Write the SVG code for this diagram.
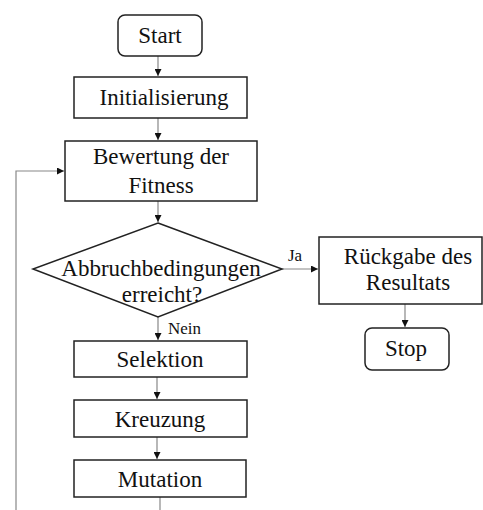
<svg xmlns="http://www.w3.org/2000/svg" width="483" height="510" viewBox="0 0 483 510">
<style>
.box{fill:#fff;stroke:#222;stroke-width:1.5}
.t{font-family:"Liberation Serif","Times New Roman",serif;font-size:23px;fill:#111;text-anchor:middle}
.lbl{font-family:"Liberation Serif","Times New Roman",serif;font-size:17px;fill:#111}
.c{fill:none;stroke:#888;stroke-width:1.2}
</style>
<defs>
<marker id="ah" viewBox="0 0 8 8" refX="8" refY="4" markerWidth="7" markerHeight="7" markerUnits="userSpaceOnUse" orient="auto">
<path d="M0,0 L8,4 L0,8 z" fill="#111"/>
</marker>
</defs>
<rect width="483" height="510" fill="#fff"/>
<g id="connectors">
<path class="c" d="M158,56 V76" marker-end="url(#ah)"/>
<path class="c" d="M158,118 V140" marker-end="url(#ah)"/>
<path class="c" d="M158,201 V222" marker-end="url(#ah)"/>
<path class="c" d="M282,269 H318" marker-end="url(#ah)"/>
<path class="c" d="M158,317 V340" marker-end="url(#ah)"/>
<path class="c" d="M405,304 V327" marker-end="url(#ah)"/>
<path class="c" d="M157,377 V399" marker-end="url(#ah)"/>
<path class="c" d="M157,437 V459" marker-end="url(#ah)"/>
<path class="c" d="M160,497 V510"/>
<path class="c" d="M16,510 V171 H64" marker-end="url(#ah)"/>
<text class="lbl" x="288" y="261">Ja</text>
<text class="lbl" x="168" y="334">Nein</text>
</g>
<g id="start">
<rect class="box" x="118" y="15" width="84" height="41" rx="7"/>
<text class="t" x="160" y="43">Start</text>
</g>
<g id="init">
<rect class="box" x="74" y="77" width="173" height="41"/>
<text class="t" x="164" y="105">Initialisierung</text>
</g>
<g id="bewertung">
<rect class="box" x="65" y="141" width="192" height="60"/>
<text class="t" x="161" y="164">Bewertung der</text>
<text class="t" x="161" y="193">Fitness</text>
</g>
<g id="abbruch">
<polygon class="box" points="158,223 282,269 158,317 33,269"/>
<text class="t" x="161" y="276">Abbruchbedingungen</text>
<text class="t" x="162" y="302">erreicht?</text>
</g>
<g id="rueckgabe">
<rect class="box" x="319" y="237" width="163" height="67"/>
<text class="t" x="408" y="264">Rückgabe des</text>
<text class="t" x="408" y="290">Resultats</text>
</g>
<g id="stop">
<rect class="box" x="365" y="328" width="84" height="42" rx="7"/>
<text class="t" x="406" y="356">Stop</text>
</g>
<g id="selektion">
<rect class="box" x="74" y="341" width="173" height="36"/>
<text class="t" x="160" y="367">Selektion</text>
</g>
<g id="kreuzung">
<rect class="box" x="74" y="400" width="173" height="37"/>
<text class="t" x="160" y="427">Kreuzung</text>
</g>
<g id="mutation">
<rect class="box" x="74" y="460" width="172" height="37"/>
<text class="t" x="160" y="487">Mutation</text>
</g>
</svg>
